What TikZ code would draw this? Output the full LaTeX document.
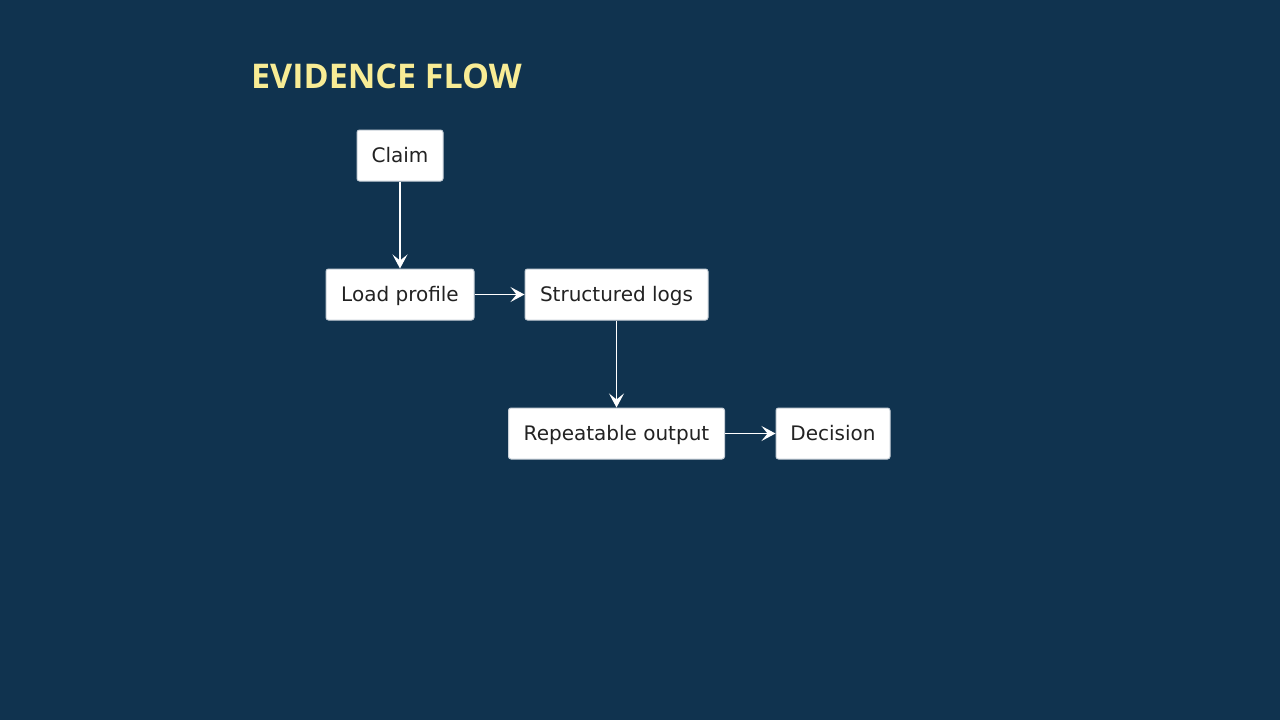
\documentclass[tikz,border=0pt]{standalone}
\usepackage{fontspec}
\setmainfont{DejaVu Sans}
\newfontfamily\titlefont{Open Sans}
\usetikzlibrary{arrows.meta}
\definecolor{bgc}{HTML}{10334F}
\definecolor{titlec}{HTML}{F8EC95}
\definecolor{txtc}{HTML}{222222}
\definecolor{edgec}{HTML}{C8D0D8}
\tikzset{
  box/.style={draw=edgec, line width=1pt, fill=white, rounded corners=2.5pt,
    minimum height=51pt, inner sep=0pt, text=txtc, text height=15pt, text depth=0.5pt,
    font=\fontsize{20}{24}\selectfont},
  flow/.style={draw=white, line width=1.2pt,
    -{Stealth[length=14pt,width=15pt,inset=6pt]}}
}
\begin{document}
\begin{tikzpicture}[x=1pt,y=-1pt]
\fill[bgc] (0,0) rectangle (1280,720);
\useasboundingbox (0,0) rectangle (1280,720);
\node[anchor=west, text=titlec, font=\titlefont\bfseries\fontsize{34}{40}\selectfont, inner sep=0pt] (title) at (251,76) {EVIDENCE FLOW};
\node[box, minimum width=86pt] (claim) at (400,155.5) {Claim};
\node[box, minimum width=148pt] (load) at (400,294.5) {Load profile};
\node[box, minimum width=183pt] (logs) at (616.5,294.5) {Structured logs};
\node[box, minimum width=216pt] (rep) at (616.5,433.5) {Repeatable output};
\node[box, minimum width=114pt] (dec) at (833,433.5) {Decision};
\draw[flow] (claim) -- (load);
\draw[flow] (load) -- (logs);
\draw[flow] (logs) -- (rep);
\draw[flow] (rep) -- (dec);
\end{tikzpicture}
\end{document}
